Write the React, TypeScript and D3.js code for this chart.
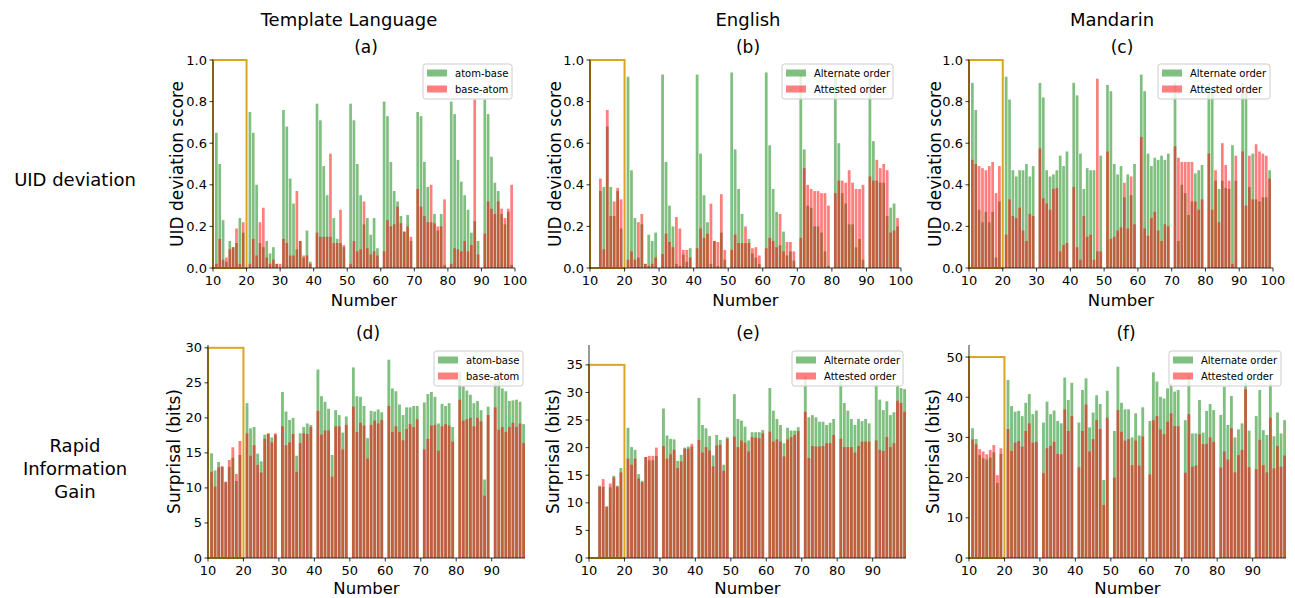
import * as d3 from 'd3'

// numbers on the x axis (10..99), one bar pair per number
const NUMBERS = d3.range(10, 100)

// (a) Template Language, UID deviation
const TL_UID_ATOM_BASE = [
  0, 0.65, 0.5, 0.23, 0.03, 0.13, 0.1, 0.12, 0.24, 0.17,
  0, 0.75, 0.65, 0.4, 0.12, 0.1, 0.13, 0.07, 0.1, 0.02,
  0, 0.76, 0.68, 0.43, 0.31, 0.09, 0.13, 0.05, 0.18, 0.03,
  0, 0.79, 0.71, 0.49, 0.35, 0.15, 0.24, 0.14, 0.12, 0.1,
  0, 0.79, 0.71, 0.5, 0.35, 0.21, 0.24, 0.16, 0.24, 0.095,
  0, 0.8, 0.73, 0.51, 0.37, 0.32, 0.25, 0.175, 0.255, 0.13,
  0, 0.75, 0.73, 0.51, 0.39, 0.22, 0.26, 0.18, 0.26, 0.015,
  0, 0.8, 0.74, 0.52, 0.415, 0.35, 0.28, 0.17, 0.225, 0.13,
  0, 0.81, 0.74, 0.535, 0.41, 0.37, 0.26, 0.21, 0.27, 0.015
]
const TL_UID_BASE_ATOM = [
  0, 0.02, 0.14, 0.04, 0.05, 0.09, 0.1, 0.19, 0.02, 0.22,
  0, 0.02, 0.14, 0.06, 0.22, 0.29, 0.05, 0.02, 0.04, 0.02,
  0.02, 0.14, 0.12, 0.06, 0.06, 0.37, 0.13, 0.06, 0.06, 0.02,
  0, 0.17, 0.15, 0.15, 0.15, 0.55, 0.12, 0.12, 0.28, 0.11,
  0, 0.02, 0.13, 0.08, 0.09, 0.32, 0.095, 0.065, 0.08, 0.06,
  0, 0.08, 0.23, 0.2, 0.21, 0.295, 0.215, 0.175, 0.2, 0.15,
  0, 0.38, 0.295, 0.25, 0.22, 0.4, 0.215, 0.2, 0.2, 0.33,
  0, 0.02, 0.095, 0.09, 0.08, 0.13, 0.08, 0.11, 0.81, 0.065,
  0, 0.165, 0.32, 0.285, 0.26, 0.32, 0.285, 0.24, 0.285, 0.4
]

// (b) English, UID deviation
const EN_UID_ALTERNATE = [
  0, 0, 0, 0.37, 0.39, 0.68, 0.39, 0.25, 0.37, 0.19,
  0, 0.92, 0.47, 0.24, 0.05, 0.21, 0.02, 0.16, 0.13, 0.17,
  0, 0.93, 0.51, 0.3, 0.2, 0.02, 0.01, 0.065, 0.03, 0.095,
  0, 0.93, 0.55, 0.35, 0.22, 0.02, 0.13, 0.01, 0.17, 0.04,
  0, 0.94, 0.57, 0.38, 0.26, 0.12, 0.14, 0.07, 0.05, 0.02,
  0, 0.94, 0.59, 0.38, 0.27, 0.11, 0.175, 0.06, 0.08, 0.035,
  0, 0.93, 0.57, 0.3, 0.29, 0.2, 0.2, 0.17, 0.08, 0.01,
  0, 0.93, 0.6, 0.36, 0.31, 0.21, 0.21, 0.1, 0.14, 0.04,
  0, 0.93, 0.61, 0.42, 0.41, 0.41, 0.25, 0.29, 0.31, 0.2
]
const EN_UID_ATTESTED = [
  0, 0, 0, 0.43, 0.09, 0.76, 0.25, 0.32, 0.385, 0.33,
  0, 0.04, 0.08, 0.04, 0.22, 0.26, 0.02, 0.01, 0.02, 0.05,
  0, 0.067, 0.165, 0.125, 0.1, 0.245, 0.19, 0.087, 0.087, 0.05,
  0, 0.095, 0.19, 0.145, 0.165, 0.31, 0.13, 0.125, 0.355, 0.087,
  0, 0.087, 0.16, 0.12, 0.12, 0.2, 0.12, 0.095, 0.1, 0.06,
  0, 0.095, 0.145, 0.13, 0.1, 0.26, 0.08, 0.125, 0.125, 0.08,
  0, 0.145, 0.48, 0.4, 0.38, 0.37, 0.37, 0.36, 0.36, 0.3,
  0, 0.36, 0.42, 0.42, 0.41, 0.47, 0.41, 0.38, 0.38, 0.4,
  0, 0.44, 0.42, 0.52, 0.48, 0.5, 0.47, 0.17, 0.18, 0.24
]

// (c) Mandarin, UID deviation
const ZH_UID_ALTERNATE = [
  0, 0.89, 0.76, 0.28, 0.22, 0.27, 0.22, 0.27, 0.05, 0.32,
  0, 0.92, 0.81, 0.47, 0.44, 0.47, 0.47, 0.5, 0.44, 0.49,
  0, 0.89, 0.82, 0.47, 0.44, 0.45, 0.47, 0.54, 0.49, 0.56,
  0, 0.89, 0.83, 0.55, 0.38, 0.48, 0.47, 0.47, 0.08, 0.54,
  0, 0.88, 0.85, 0.5, 0.45, 0.49, 0.34, 0.45, 0.35, 0.5,
  0, 0.93, 0.85, 0.55, 0.49, 0.53, 0.52, 0.54, 0.52, 0.55,
  0, 0.89, 0.13, 0.4, 0.36, 0.255, 0.32, 0.455, 0.47, 0.495,
  0, 0.89, 0.86, 0.42, 0.38, 0.42, 0.385, 0.38, 0.59, 0.42,
  0, 0.89, 0.85, 0.39, 0.55, 0.33, 0.32, 0.34, 0.34, 0.47
]
const ZH_UID_ATTESTED = [
  0, 0.52, 0.5, 0.49, 0.48, 0.47, 0.49, 0.51, 0.36, 0.49,
  0, 0.16, 0.33, 0.25, 0.24, 0.29, 0.18, 0.13, 0.26, 0.25,
  0, 0.575, 0.335, 0.31, 0.28, 0.38, 0.385, 0.08, 0.11, 0.12,
  0, 0.39, 0.1, 0.04, 0.25, 0.15, 0.16, 0.04, 0.91, 0.08,
  0, 0.56, 0.14, 0.15, 0.18, 0.195, 0.41, 0.19, 0.44, 0.21,
  0, 0.63, 0.19, 0.155, 0.24, 0.27, 0.18, 0.13, 0.21, 0.2,
  0, 0.585, 0.53, 0.51, 0.51, 0.51, 0.51, 0.32, 0.28, 0.33,
  0, 0.55, 0.28, 0.47, 0.22, 0.6, 0.495, 0.42, 0.02, 0.54,
  0, 0.56, 0.3, 0.54, 0.33, 0.595, 0.56, 0.55, 0.54, 0.43
]

// (d) Template Language, surprisal
const TL_RIG_ATOM_BASE = [
  0, 14.95, 12.5, 13.7, 13.0, 10.8, 13.0, 14.3, 11.0, 14.7,
  0, 22.1, 18.5, 18.7, 14.9, 13.8, 17.6, 17.8, 17.2, 17.6,
  0, 23.7, 20.9, 19.7, 20.0, 14.6, 17.8, 18.7, 19.2, 19.0,
  0, 26.9, 23.1, 22.3, 21.3, 14.7, 21.1, 20.4, 17.9, 20.2,
  0, 27.2, 23.1, 23.0, 21.7, 17.1, 21.0, 20.9, 21.2, 20.8,
  0, 28.3, 24.2, 23.8, 21.9, 20.4, 21.5, 21.5, 21.7, 21.7,
  0, 22.2, 23.4, 23.7, 23.0, 19.2, 22.0, 21.7, 22.1, 18.7,
  0, 26.6, 24.5, 23.9, 23.3, 22.1, 22.4, 21.1, 11.2, 21.6,
  0, 25.0, 25.4, 24.2, 23.8, 22.4, 22.5, 22.6, 22.3, 19.1
]
const TL_RIG_BASE_ATOM = [
  0, 12.3, 10.2, 12.95, 13.1, 10.9, 14.0, 15.8, 12.0, 16.7,
  0, 17.8, 14.6, 16.1, 13.3, 12.2, 17.0, 17.7, 16.5, 17.8,
  0, 18.8, 16.1, 16.5, 17.7, 12.3, 16.4, 17.8, 17.7, 18.7,
  0, 21.0, 17.6, 18.2, 18.2, 11.6, 18.8, 18.8, 15.5, 19.0,
  0, 21.6, 18.0, 19.3, 18.9, 14.2, 19.0, 19.6, 19.2, 19.7,
  0, 21.7, 18.0, 18.8, 18.0, 16.8, 18.4, 19.1, 18.7, 19.8,
  0, 15.5, 17.0, 18.9, 19.0, 15.3, 18.8, 19.1, 18.9, 16.6,
  0, 22.6, 19.6, 19.8, 20.0, 18.8, 20.0, 19.5, 8.9, 20.4,
  0, 21.5, 18.3, 18.7, 18.0, 18.7, 19.3, 18.7, 19.2, 16.4
]

// (e) English, surprisal
const EN_RIG_ALTERNATE = [
  0, 0, 0, 13.1, 12.9, 9.4, 12.8, 14.9, 13.1, 16.3,
  0, 23.6, 20.1, 19.6, 15.2, 14.0, 18.3, 17.7, 17.7, 18.5,
  0, 27.1, 22.2, 21.6, 21.5, 17.6, 18.7, 20.0, 20.2, 20.2,
  0, 29.0, 24.1, 23.5, 22.1, 18.6, 22.3, 21.4, 16.9, 21.9,
  0, 29.7, 25.2, 24.9, 23.8, 21.3, 22.8, 22.8, 22.8, 23.2,
  0, 30.8, 26.7, 25.2, 24.1, 20.8, 23.6, 23.1, 23.1, 23.7,
  0, 33.0, 25.5, 25.9, 25.5, 24.7, 24.7, 24.1, 24.5, 25.2,
  0, 32.0, 28.1, 26.7, 25.2, 24.1, 25.2, 24.8, 25.2, 24.4,
  0, 31.4, 28.7, 26.8, 28.4, 25.9, 26.4, 31.4, 30.8, 30.6
]
const EN_RIG_ATTESTED = [
  0, 0, 0, 12.9, 14.3, 9.2, 13.5, 14.6, 12.9, 15.5,
  0, 18.0, 16.9, 18.0, 14.4, 13.7, 18.3, 18.5, 18.5, 20.0,
  0, 20.3, 18.0, 18.8, 19.6, 16.3, 17.5, 19.8, 19.8, 20.7,
  0, 21.4, 19.1, 20.1, 19.5, 16.6, 20.4, 20.5, 15.8, 21.6,
  0, 22.0, 20.1, 21.3, 20.9, 19.3, 21.9, 21.8, 21.7, 22.6,
  0, 22.9, 21.1, 21.5, 21.1, 18.4, 21.5, 21.9, 22.3, 23.0,
  0, 26.5, 18.1, 20.3, 20.2, 20.2, 20.3, 20.8, 20.8, 22.3,
  0, 21.6, 20.1, 20.1, 20.1, 19.1, 20.3, 21.1, 21.1, 21.1,
  0, 21.3, 19.6, 19.4, 21.9, 20.1, 20.8, 28.5, 28.1, 26.5
]

// (f) Mandarin, surprisal
const ZH_RIG_ALTERNATE = [
  0, 32.3, 29.6, 25.6, 24.8, 24.5, 25.0, 26.3, 18.7, 25.9,
  0, 44.3, 37.8, 36.4, 36.6, 35.3, 38.6, 40.8, 35.8, 36.7,
  0, 33.7, 38.9, 35.8, 36.7, 34.1, 33.5, 44.9, 39.3, 43.6,
  0, 33.7, 41.8, 44.7, 32.5, 36.2, 40.5, 38.3, 19.4, 41.6,
  0, 31.6, 47.6, 38.6, 37.0, 37.0, 30.0, 36.0, 30.5, 37.5,
  0, 34.1, 46.2, 43.9, 40.1, 39.7, 42.2, 43.4, 41.4, 41.8,
  0, 34.3, 45.5, 31.0, 31.0, 39.3, 31.2, 36.6, 38.3, 36.8,
  0, 35.6, 42.6, 33.1, 40.3, 30.0, 32.0, 33.5, 43.5, 31.7,
  0, 35.3, 41.8, 31.8, 30.6, 43.3, 30.3, 36.2, 31.0, 34.3
]
const ZH_RIG_ATTESTED = [
  0, 29.5, 28.3, 27.1, 26.5, 25.8, 26.9, 28.1, 20.6, 27.3,
  0, 32.1, 26.6, 28.7, 29.1, 27.7, 31.6, 33.5, 28.7, 28.9,
  0, 21.1, 27.3, 27.9, 28.9, 25.9, 25.8, 37.0, 31.6, 35.3,
  0, 22.6, 31.6, 38.2, 26.5, 29.6, 34.3, 32.1, 13.2, 34.9,
  0, 20.0, 36.8, 31.4, 29.2, 29.6, 23.1, 29.2, 23.0, 30.2,
  0, 20.8, 34.3, 35.3, 32.0, 30.8, 33.9, 36.0, 32.8, 32.8,
  0, 21.2, 35.8, 22.7, 23.0, 30.8, 28.3, 28.4, 30.0, 28.9,
  0, 22.5, 26.5, 24.5, 32.3, 21.3, 25.6, 26.9, 42.0, 22.6,
  0, 22.1, 29.4, 23.1, 21.3, 34.9, 22.3, 27.9, 22.7, 25.5
]

const COLUMN_TITLES = ['Template Language', 'English', 'Mandarin']
const ROW_TITLES = [['UID deviation'], ['Rapid', 'Information', 'Gain']]
const TL_LEGEND = ['atom-base', 'base-atom']
const NL_LEGEND = ['Alternate order', 'Attested order']

const UID_TICKS = [0, 0.2, 0.4, 0.6, 0.8, 1.0]
const TOP_X_TICKS = [10, 20, 30, 40, 50, 60, 70, 80, 90, 100]
const BOTTOM_X_TICKS = [10, 20, 30, 40, 50, 60, 70, 80, 90]

const FONT = "'DejaVu Sans', sans-serif"
const GOLD = '#daa520'

type PanelDef = {
  title: string
  green: number[]
  red: number[]
  legend: string[]
  left: number
  right: number
  top: number
  bottom: number
  xMax: number
  yMax: number
  yTicks: number[]
  xTicks: number[]
  fmt: (v: number) => string
  boxTop: number
  yLabel: string
  yLabelX: number
  titleX: number
  titleY: number
  xLabelY: number
  legendBox: { x: number; y: number; w: number; h: number }
}

const f1 = d3.format('.1f')
const f0 = d3.format('d')

const PANELS: PanelDef[] = [
  {
    title: '(a)', green: TL_UID_ATOM_BASE, red: TL_UID_BASE_ATOM, legend: TL_LEGEND,
    left: 213, right: 515, top: 60, bottom: 268, xMax: 100, yMax: 1,
    yTicks: UID_TICKS, xTicks: TOP_X_TICKS, fmt: f1, boxTop: 1,
    yLabel: 'UID deviation score', yLabelX: 177, titleX: 366, titleY: 53, xLabelY: 306,
    legendBox: { x: 423, y: 64, w: 89, h: 35 }
  },
  {
    title: '(b)', green: EN_UID_ALTERNATE, red: EN_UID_ATTESTED, legend: NL_LEGEND,
    left: 590, right: 901, top: 60, bottom: 268, xMax: 100, yMax: 1,
    yTicks: UID_TICKS, xTicks: TOP_X_TICKS, fmt: f1, boxTop: 1,
    yLabel: 'UID deviation score', yLabelX: 555, titleX: 748, titleY: 53, xLabelY: 306,
    legendBox: { x: 782, y: 64, w: 111, h: 35 }
  },
  {
    title: '(c)', green: ZH_UID_ALTERNATE, red: ZH_UID_ATTESTED, legend: NL_LEGEND,
    left: 969, right: 1273, top: 60, bottom: 268, xMax: 100, yMax: 1,
    yTicks: UID_TICKS, xTicks: TOP_X_TICKS, fmt: f1, boxTop: 1,
    yLabel: 'UID deviation score', yLabelX: 935, titleX: 1122, titleY: 53, xLabelY: 306,
    legendBox: { x: 1158, y: 64, w: 112, h: 35 }
  },
  {
    title: '(d)', green: TL_RIG_ATOM_BASE, red: TL_RIG_BASE_ATOM, legend: TL_LEGEND,
    left: 208, right: 525, top: 345, bottom: 558, xMax: 99.4, yMax: 30.4,
    yTicks: [0, 5, 10, 15, 20, 25, 30], xTicks: BOTTOM_X_TICKS, fmt: f0, boxTop: 30,
    yLabel: 'Surprisal (bits)', yLabelX: 174, titleX: 368, titleY: 339, xLabelY: 594,
    legendBox: { x: 434, y: 351, w: 89, h: 35 }
  },
  {
    title: '(e)', green: EN_RIG_ALTERNATE, red: EN_RIG_ATTESTED, legend: NL_LEGEND,
    left: 589, right: 906, top: 345, bottom: 558, xMax: 99.4, yMax: 38.6,
    yTicks: [0, 5, 10, 15, 20, 25, 30, 35], xTicks: BOTTOM_X_TICKS, fmt: f0, boxTop: 35,
    yLabel: 'Surprisal (bits)', yLabelX: 553, titleX: 748, titleY: 339, xLabelY: 594,
    legendBox: { x: 792, y: 351, w: 111, h: 35 }
  },
  {
    title: '(f)', green: ZH_RIG_ALTERNATE, red: ZH_RIG_ATTESTED, legend: NL_LEGEND,
    left: 969, right: 1286, top: 345, bottom: 558, xMax: 99.4, yMax: 53,
    yTicks: [0, 10, 20, 30, 40, 50], xTicks: BOTTOM_X_TICKS, fmt: f0, boxTop: 50,
    yLabel: 'Surprisal (bits)', yLabelX: 933, titleX: 1126, titleY: 339, xLabelY: 594,
    legendBox: { x: 1169, y: 351, w: 112, h: 35 }
  }
]

function Panel({ p }: { p: PanelDef }) {
  const x = d3.scaleLinear().domain([10, p.xMax]).range([p.left, p.right])
  const y = d3.scaleLinear().domain([0, p.yMax]).range([p.bottom, p.top])
  const bw = x(10.8) - x(10)
  const midX = (p.left + p.right) / 2
  const midY = (p.top + p.bottom) / 2
  const lb = p.legendBox

  return (
    <g>
      {/* bars: green first, red on top, both half transparent */}
      {NUMBERS.map((n, i) => (
        <rect key={`g${n}`} x={x(n) - bw / 2} y={y(p.green[i])} width={bw}
          height={y(0) - y(p.green[i])} fill="#008000" fillOpacity={0.5} />
      ))}
      {NUMBERS.map((n, i) => (
        <rect key={`r${n}`} x={x(n) - bw / 2} y={y(p.red[i])} width={bw}
          height={y(0) - y(p.red[i])} fill="#ff0000" fillOpacity={0.5} />
      ))}

      {/* highlight box over 10-20 */}
      <rect x={x(10)} y={y(p.boxTop)} width={x(20) - x(10)} height={y(0) - y(p.boxTop)}
        fill="none" stroke={GOLD} strokeWidth={2} />

      {/* spines */}
      <line x1={p.left} x2={p.left} y1={p.top} y2={p.bottom} stroke="#000" strokeWidth={0.8} />
      <line x1={p.left} x2={p.right} y1={p.bottom} y2={p.bottom} stroke="#000" strokeWidth={0.8} />

      {/* y ticks */}
      {p.yTicks.map(t => (
        <g key={`yt${t}`}>
          <line x1={p.left - 3.5} x2={p.left} y1={y(t)} y2={y(t)} stroke="#000" strokeWidth={0.8} />
          <text x={p.left - 6} y={y(t)} fontSize={13} textAnchor="end" dominantBaseline="central"
            fontFamily={FONT}>{p.fmt(t)}</text>
        </g>
      ))}

      {/* x ticks */}
      {p.xTicks.map(t => (
        <g key={`xt${t}`}>
          <line x1={x(t)} x2={x(t)} y1={p.bottom} y2={p.bottom + 3.5} stroke="#000" strokeWidth={0.8} />
          <text x={x(t)} y={p.bottom + 17} fontSize={13} textAnchor="middle" fontFamily={FONT}>{t}</text>
        </g>
      ))}

      {/* labels */}
      <text x={midX} y={p.xLabelY} fontSize={16.5} textAnchor="middle" fontFamily={FONT}>Number</text>
      <text transform={`translate(${p.yLabelX},${midY}) rotate(-90)`} fontSize={17} textAnchor="middle"
        dominantBaseline="central" fontFamily={FONT}>{p.yLabel}</text>
      <text x={p.titleX} y={p.titleY} fontSize={17} textAnchor="middle" fontFamily={FONT}>{p.title}</text>

      {/* legend */}
      <rect x={lb.x} y={lb.y} width={lb.w} height={lb.h} rx={2.5} fill="#fff" fillOpacity={0.8}
        stroke="#ccc" strokeWidth={1} />
      {p.legend.map((label, i) => {
        const cy = lb.y + 9 + i * 16
        return (
          <g key={label}>
            <rect x={lb.x + 4} y={cy - 3.5} width={20} height={7}
              fill={i === 0 ? '#008000' : '#ff0000'} fillOpacity={0.5} />
            <text x={lb.x + 32} y={cy} fontSize={10} dominantBaseline="central" fontFamily={FONT}>{label}</text>
          </g>
        )
      })}
    </g>
  )
}

export default function App() {
  return (
    <svg width={1295} height={598} style={{ position: 'absolute', left: 0, top: 0, background: '#fff' }}>
      <rect width={1295} height={598} fill="#fff" />
      {COLUMN_TITLES.map((t, i) => (
        <text key={t} x={[349, 748, 1112][i]} y={26} fontSize={18} textAnchor="middle" fontFamily={FONT}>{t}</text>
      ))}
      {ROW_TITLES.map((lines, r) => (
        <text key={r} fontSize={18} textAnchor="middle" fontFamily={FONT}>
          {lines.map((l, k) => (
            <tspan key={l} x={75} y={(r === 0 ? 186 : 452) + k * 23}>{l}</tspan>
          ))}
        </text>
      ))}
      {PANELS.map(p => <Panel key={p.title} p={p} />)}
    </svg>
  )
}
